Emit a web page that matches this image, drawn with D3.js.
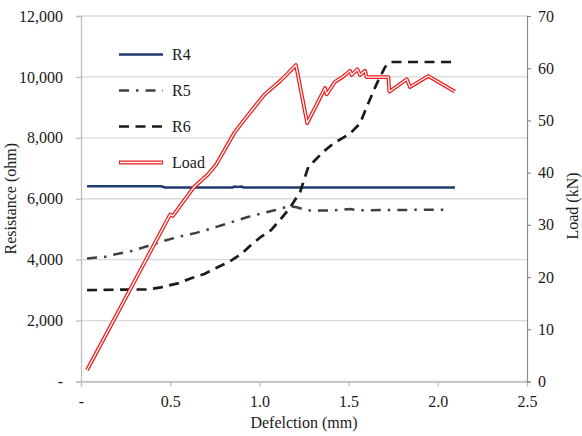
<!DOCTYPE html>
<html>
<head>
<meta charset="utf-8">
<script src="https://cdn.jsdelivr.net/npm/d3@7"></script>
<style>
  body { margin: 0; background: #fff; }
  text { font-family: "Liberation Serif", "Times New Roman", serif; fill: #1a1a1a; }
</style>
</head>
<body>
<svg id="chart" width="582" height="436"></svg>
<script>
// deflection (mm), resistance (ohm)
const r4 = [[0.034, 6410], [0.45, 6410], [0.47, 6370], [0.85, 6370], [0.86, 6400], [0.88, 6390],
            [0.90, 6400], [0.91, 6370], [2.096, 6370]];
const r5 = [[0.034, 4040], [0.131, 4090], [0.187, 4170], [0.28, 4280], [0.392, 4480], [0.448, 4590],
            [0.561, 4770], [0.645, 4880], [0.70, 4970], [0.822, 5190], [0.934, 5400], [1.084, 5620],
            [1.168, 5760], [1.209, 5720], [1.265, 5620], [1.40, 5610], [1.508, 5660], [1.55, 5620],
            [1.70, 5630], [2.05, 5640]];
const r6 = [[0.034, 3000], [0.28, 3020], [0.374, 3020], [0.448, 3090], [0.542, 3220], [0.617, 3390],
            [0.691, 3530], [0.766, 3750], [0.831, 3930], [0.897, 4180], [0.953, 4480], [1.009, 4750],
            [1.065, 4970], [1.115, 5300], [1.172, 5710], [1.228, 6220], [1.274, 7040], [1.358, 7540],
            [1.414, 7810], [1.508, 8140], [1.564, 8470], [1.601, 9010], [1.658, 9780], [1.704, 10320],
            [1.732, 10490], [2.09, 10490]];
// deflection (mm), load (kN)
const load = [[0.034, 2.2], [0.364, 23.3], [0.50, 32.0], [0.515, 31.7], [0.635, 37.3], [0.71, 39.6],
              [0.757, 41.5], [0.859, 47.6], [0.915, 50.1], [1.027, 54.9], [1.121, 57.7], [1.205, 60.6],
              [1.268, 49.5], [1.368, 56.2], [1.377, 55.0], [1.424, 57.4], [1.47, 58.4], [1.508, 59.5],
              [1.517, 58.7], [1.549, 59.8], [1.564, 58.7], [1.592, 59.5], [1.601, 58.3], [1.723, 58.3],
              [1.728, 55.5], [1.826, 57.9], [1.844, 56.4], [1.947, 58.5], [2.096, 55.5]];

const xTicks = [0, 0.5, 1.0, 1.5, 2.0, 2.5];
const yTicks = [0, 2000, 4000, 6000, 8000, 10000, 12000];
const y2Ticks = [0, 10, 20, 30, 40, 50, 60, 70];
const legendNames = ["R4", "R5", "R6", "Load"];

const pLeft = 81, pRight = 527, pTop = 16, pBottom = 381.5;
const svg = d3.select("#chart");

const x = d3.scaleLinear().domain([0, 2.5]).range([pLeft, pRight]);
const y = d3.scaleLinear().domain([0, 12000]).range([pBottom, pTop]);
const y2 = d3.scaleLinear().domain([0, 70]).range([pBottom, pTop]);

// gridlines
svg.append("g")
    .selectAll("line")
    .data(yTicks)
    .enter()
    .append("line")
    .attr("x1", pLeft).attr("x2", pRight)
    .attr("y1", d => y(d)).attr("y2", d => y(d))
    .attr("stroke", "#d9d9d9")
    .attr("stroke-width", 1.3);

const fmtY = d => d === 0 ? "-" : d3.format(",")(d);
const fmtX = d => d === 0 ? "-" : d3.format(".1f")(d);

const yAxis = svg.append("g")
    .attr("transform", `translate(${pLeft},0)`)
    .call(d3.axisLeft(y).tickValues(yTicks).tickFormat(fmtY).tickSize(5).tickPadding(13));
const xAxis = svg.append("g")
    .attr("transform", `translate(0,${pBottom})`)
    .call(d3.axisBottom(x).tickValues(xTicks).tickFormat(fmtX).tickSize(5).tickPadding(9));
const y2Axis = svg.append("g")
    .attr("transform", `translate(${pRight},0)`)
    .call(d3.axisRight(y2).tickValues(y2Ticks).tickSize(4).tickPadding(7));

[yAxis, xAxis].forEach(a => {
    a.select(".domain").attr("stroke", "#bfbfbf").attr("stroke-width", 1.3);
    a.selectAll(".tick line").attr("stroke", "#bfbfbf").attr("stroke-width", 1.3);
});
y2Axis.select(".domain").attr("stroke", "#8c8c8c").attr("stroke-width", 1.2);
y2Axis.selectAll(".tick line").attr("stroke", "#8c8c8c").attr("stroke-width", 1.2);
svg.selectAll(".tick text")
    .attr("font-family", "Liberation Serif")
    .attr("font-size", 16)
    .attr("fill", "#1a1a1a");

const line = d3.line().x(d => x(d[0])).y(d => y(d[1]));
const line2 = d3.line().x(d => x(d[0])).y(d => y2(d[1]));

const styles = {
    R4: { stroke: "#1f3a70", width: 2.5, dash: null },
    R5: { stroke: "#404040", width: 2.5, dash: "10,7,2.5,7" },
    R6: { stroke: "#1a1a1a", width: 2.7, dash: "10,6.5" }
};

[[r4, "R4"], [r5, "R5"], [r6, "R6"]].forEach(([data, name]) => {
    const s = styles[name];
    svg.append("path")
        .datum(data)
        .attr("d", line)
        .attr("fill", "none")
        .attr("stroke", s.stroke)
        .attr("stroke-width", s.width)
        .attr("stroke-dasharray", s.dash);
});

// load: double red line
svg.append("path")
    .datum(load)
    .attr("d", line2)
    .attr("fill", "none")
    .attr("stroke", "#ee1c1c")
    .attr("stroke-width", 3.8)
    .attr("stroke-linejoin", "round");
svg.append("path")
    .datum(load)
    .attr("d", line2)
    .attr("fill", "none")
    .attr("stroke", "#fff")
    .attr("stroke-width", 1.3)
    .attr("stroke-linejoin", "round");

// legend
const legend = svg.append("g")
    .selectAll("g")
    .data(legendNames)
    .enter()
    .append("g")
    .attr("transform", (d, i) => `translate(119,${54.5 + i * 36})`);

legend.each(function(d) {
    const g = d3.select(this);
    if (d === "Load") {
        g.append("line").attr("x1", 0).attr("x2", 44)
            .attr("stroke", "#ee1c1c").attr("stroke-width", 3.8);
        g.append("line").attr("x1", 1).attr("x2", 43)
            .attr("stroke", "#fff").attr("stroke-width", 1.3);
    } else {
        const s = styles[d];
        g.append("line").attr("x1", 0).attr("x2", 44)
            .attr("stroke", s.stroke).attr("stroke-width", s.width)
            .attr("stroke-dasharray", s.dash);
    }
    g.append("text")
        .attr("x", 53).attr("y", 5.5)
        .attr("font-size", 16)
        .text(d);
});

// axis titles
svg.append("text")
    .attr("transform", `translate(16,${(pTop + pBottom) / 2}) rotate(-90)`)
    .attr("text-anchor", "middle")
    .attr("font-size", 16)
    .text("Resistance (ohm)");
svg.append("text")
    .attr("x", (pLeft + pRight) / 2).attr("y", 428)
    .attr("text-anchor", "middle")
    .attr("font-size", 16)
    .text("Defelction (mm)");
svg.append("text")
    .attr("transform", `translate(578,206) rotate(-90)`)
    .attr("text-anchor", "middle")
    .attr("font-size", 16)
    .text("Load (kN)");
</script>
</body>
</html>
